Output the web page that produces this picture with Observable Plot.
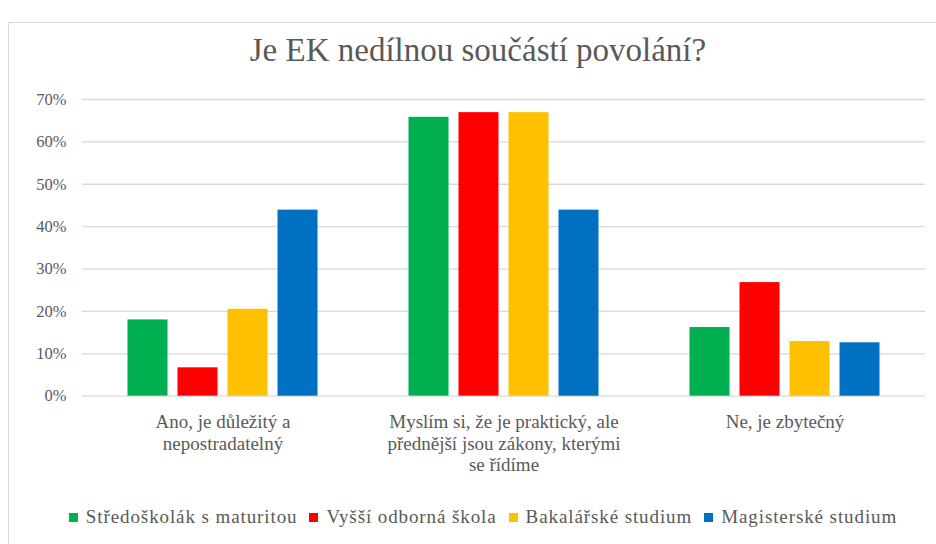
<!DOCTYPE html>
<html><head><meta charset="utf-8">
<script src="https://cdn.jsdelivr.net/npm/d3@7"></script>
<script src="https://cdn.jsdelivr.net/npm/@observablehq/plot@0.6"></script>
<style>
body{margin:0;background:#fff;}
#wrap{position:relative;width:936px;height:544px;overflow:hidden;color:#595959;}
#frame{position:absolute;left:8px;top:22px;width:960px;height:560px;border:1.5px solid #d9d9d9;box-sizing:border-box;}
#title{position:absolute;top:30px;left:0;width:956px;text-align:center;font-size:33px;line-height:40px;}
#chart{position:absolute;left:0;top:0;}
#legend{position:absolute;top:506px;left:0;width:966px;display:flex;justify-content:center;align-items:center;font-size:19px;line-height:22px;letter-spacing:0.9px;}
.item{display:flex;align-items:center;margin:0 6px;}
.sw{width:9px;height:9px;margin-right:8px;}
</style>
</head><body>
<div id="wrap" style="font-family:'Liberation Serif'">
<div id="frame"></div>
<div id="title" style="font-family:'Liberation Serif'">Je EK nedílnou součástí povolání?</div>
<div id="chart"></div>
<div id="legend" style="font-family:'Liberation Serif'"></div>
</div>
<script>
const groups = ["Ano, je důležitý a nepostradatelný", "Myslím si, že je praktický, ale přednější jsou zákony, kterými se řídíme", "Ne, je zbytečný"];
const groupLabels = ["Ano, je důležitý a\nnepostradatelný", "Myslím si, že je praktický, ale\npřednější jsou zákony, kterými\nse řídíme", "Ne, je zbytečný"];
const series = ["Středoškolák s maturitou", "Vyšší odborná škola", "Bakalářské studium", "Magisterské studium"];
const colors = ["#00b050", "#ff0000", "#ffc000", "#0070c0"];
const stredoskolak = [0.180, 0.658, 0.162];
const vyssi = [0.067, 0.669, 0.268];
const bakalar = [0.205, 0.669, 0.129];
const magistr = [0.439, 0.439, 0.126];
const yTicks = [0, 0.1, 0.2, 0.3, 0.4, 0.5, 0.6, 0.7];

const seriesValues = [stredoskolak, vyssi, bakalar, magistr];
const data = [];
groups.forEach((g, gi) => series.forEach((s, si) => data.push({group: g, series: s, value: seriesValues[si][gi]})));

const plot = Plot.plot({
  width: 936, height: 490,
  marginTop: 99, marginBottom: 94.3, marginLeft: 81.5, marginRight: 11.5,
  style: {fontFamily: "Liberation Serif", fontSize: "16px", color: "#595959", background: "transparent"},
  fx: {domain: groups, padding: 0, axis: null, label: null},
  x: {domain: series, paddingInner: 0.21, paddingOuter: 0.878, axis: null},
  y: {domain: [0, 0.7], axis: null, label: null},
  color: {domain: series, range: colors},
  marks: [
    Plot.ruleY(yTicks, {stroke: "#d9d9d9", strokeWidth: 1.3}),
    Plot.barY(data, {fx: "group", x: "series", y: "value", fill: "series"}),
    Plot.axisY({ticks: yTicks, tickFormat: d => Math.round(d * 100) + "%", tickSize: 0, tickPadding: 16, fontSize: 16.5, label: null, style: {letterSpacing: "1.5px"}}),
    Plot.axisFx({domain: groups, tickFormat: d => groupLabels[groups.indexOf(d)], tickSize: 0, tickPadding: 16, fontSize: 19, lineHeight: 1.15, anchor: "bottom", label: null})
  ]
});
document.getElementById("chart").appendChild(plot);

const legend = document.getElementById("legend");
series.forEach((s, i) => {
  const it = document.createElement("div"); it.className = "item";
  const sw = document.createElement("div"); sw.className = "sw"; sw.style.background = colors[i];
  const t = document.createElement("span"); t.textContent = s; t.style.fontFamily = "Liberation Serif";
  it.appendChild(sw); it.appendChild(t); legend.appendChild(it);
});
</script>
</body></html>
